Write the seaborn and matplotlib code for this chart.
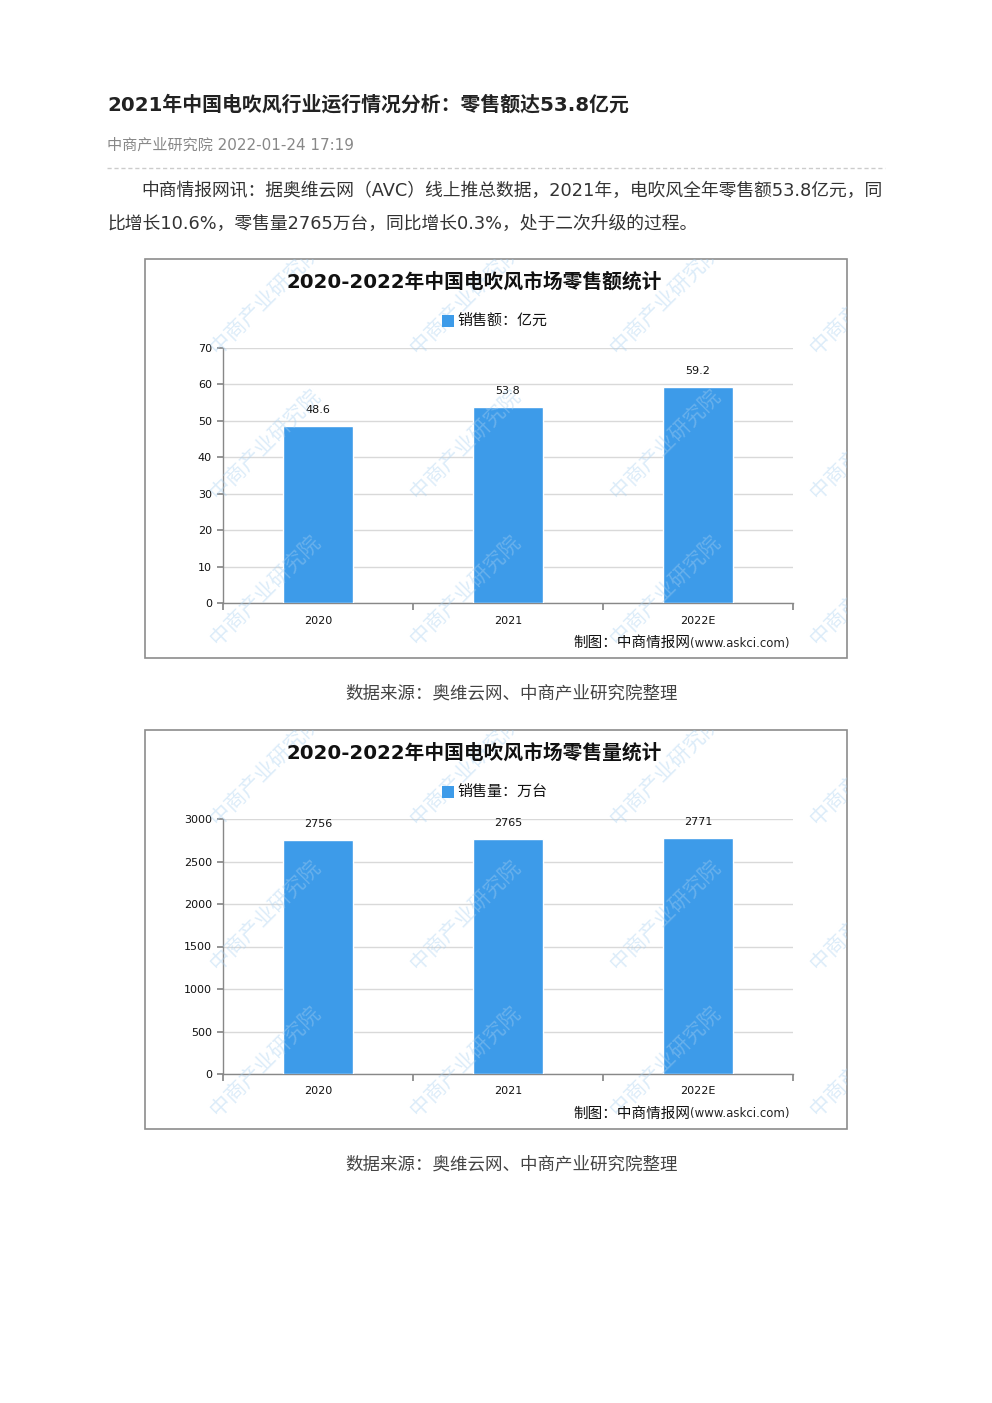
import matplotlib
matplotlib.use("Agg")
import matplotlib.pyplot as plt
from matplotlib.patches import Rectangle
from matplotlib.lines import Line2D
import seaborn as sns
import pandas as pd

sns.set_theme(style="white")
plt.rcParams['font.family'] = ['Noto Sans CJK SC', 'DejaVu Sans']

# ---- data ----
years = ["2020", "2021", "2022E"]
sales_value = [48.6, 53.8, 59.2]          # 亿元
sales_volume = [2756, 2765, 2771]         # 万台
value_ticks = [0, 10, 20, 30, 40, 50, 60, 70]
volume_ticks = [0, 500, 1000, 1500, 2000, 2500, 3000]

page_title = "2021年中国电吹风行业运行情况分析：零售额达53.8亿元"
byline = "中商产业研究院 2022-01-24 17:19"
para1 = "中商情报网讯：据奥维云网（AVC）线上推总数据，2021年，电吹风全年零售额53.8亿元，同"
para2 = "比增长10.6%，零售量2765万台，同比增长0.3%，处于二次升级的过程。"
chart1_title = "2020-2022年中国电吹风市场零售额统计"
chart2_title = "2020-2022年中国电吹风市场零售量统计"
legend1 = "销售额：亿元"
legend2 = "销售量：万台"
credit_a = "制图：中商情报网"
credit_b = "(www.askci.com)"
caption = "数据来源：奥维云网、中商产业研究院整理"
watermark = "中商产业研究院"

BAR = "#3d9be9"
MIX = ['DejaVu Sans', 'Noto Sans CJK SC']
W, H = 992, 1403
fig = plt.figure(figsize=(W / 100, H / 100), dpi=100)
fig.patch.set_facecolor("white")


def fx(x):
    return x / W


def fy(y):
    return 1 - y / H


# ---- page text ----
fig.text(fx(107), fy(105), page_title, fontsize=14.3, fontweight="bold",
         color="#222222", va="center", ha="left", family=MIX)
fig.text(fx(107), fy(145), byline, fontsize=10.9, color="#888888",
         va="center", ha="left", family=MIX)
fig.add_artist(Line2D([fx(107), fx(885)], [fy(168), fy(168)], color="#cccccc",
                      lw=1, ls=(0, (3, 2)), transform=fig.transFigure))
fig.text(fx(141), fy(191), para1, fontsize=12.8, color="#333333",
         va="center", ha="left", family=MIX)
fig.text(fx(107), fy(224), para2, fontsize=12.8, color="#333333",
         va="center", ha="left", family=MIX)


def draw_chart(top, vals, ticks, ymax, ttl, leg, labels):
    # box
    box = Rectangle((fx(145), fy(top + 399)), fx(702), 399 / H,
                    transform=fig.transFigure, facecolor="white",
                    edgecolor="#8c8c8c", lw=1.2, zorder=0)
    fig.add_artist(box)
    # watermarks
    for wx in [222, 422, 622, 822]:
        for wy in [top + 100, top + 245, top + 391]:
            t = fig.text(fx(wx), fy(wy), watermark, fontsize=15, color="#a8d0f0",
                         alpha=0.4, rotation=45, ha="left", va="bottom",
                         zorder=0.5, rotation_mode="anchor")
            t.set_clip_path(box)
    # title and legend
    fig.text(fx(474), fy(top + 23), ttl, fontsize=14.2, fontweight="bold",
             color="#111111", ha="center", va="center", family=MIX)
    fig.add_artist(Rectangle((fx(442), fy(top + 68)), fx(12), 12 / H,
                             transform=fig.transFigure, facecolor=BAR,
                             edgecolor="none"))
    fig.text(fx(457), fy(top + 62), leg, fontsize=10.8, color="#111111",
             ha="left", va="center")
    fig.text(fx(690), fy(top + 384), credit_b, fontsize=8.5, color="#222222",
             ha="left", va="center", family="DejaVu Sans")
    fig.text(fx(690), fy(top + 384), credit_a, fontsize=10.5, color="#111111",
             ha="right", va="center")

    ax = fig.add_axes([fx(223), fy(top + 344), fx(570), 255 / H])
    ax.set_facecolor("none")
    df = pd.DataFrame({"year": years, "v": vals})
    sns.barplot(data=df, x="year", y="v", color=BAR, width=0.37,
                saturation=1, ax=ax, zorder=3)
    ax.set_ylim(0, ymax)
    ax.set_xlim(-0.5, 2.5)
    ax.set_yticks(ticks)
    ax.set_yticklabels([str(t) for t in ticks], fontsize=8, color="#111111",
                       family="DejaVu Sans")
    ax.yaxis.grid(True, color="#d9d9d9", lw=1, zorder=0)
    ax.set_axisbelow(True)
    ax.set_xticks([-0.5, 0.5, 1.5, 2.5])
    ax.set_xticklabels([])
    ax.set_xticks([0, 1, 2], minor=True)
    ax.set_xticklabels(labels, minor=True, fontsize=8, color="#111111",
                       family="DejaVu Sans")
    ax.tick_params(axis="x", which="major", length=5, color="#888888",
                   direction="out", bottom=True)
    ax.tick_params(axis="x", which="minor", length=0, pad=9, bottom=True)
    ax.tick_params(axis="y", length=4, color="#888888", direction="out",
                   left=True, pad=4)
    ax.set_xlabel("")
    ax.set_ylabel("")
    for s in ["top", "right"]:
        ax.spines[s].set_visible(False)
    for s in ["left", "bottom"]:
        ax.spines[s].set_color("#888888")
        ax.spines[s].set_linewidth(1)
    for c in ax.containers:
        ax.bar_label(c, labels=[str(v) for v in vals], padding=8, fontsize=8,
                     color="#111111", family="DejaVu Sans")
    return ax


draw_chart(259, sales_value, value_ticks, 70, chart1_title, legend1, years)
fig.text(fx(512), fy(694), caption, fontsize=12.6, color="#444444",
         ha="center", va="center")
draw_chart(730, sales_volume, volume_ticks, 3000, chart2_title, legend2, years)
fig.text(fx(512), fy(1165), caption, fontsize=12.6, color="#444444",
         ha="center", va="center")

fig.savefig("out.png", dpi=100, facecolor="white")
